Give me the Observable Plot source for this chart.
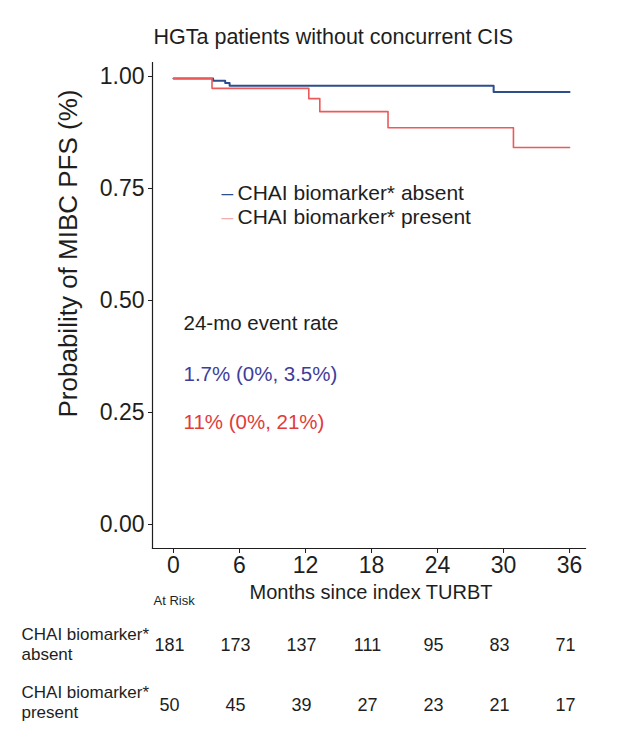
<!DOCTYPE html>
<html>
<head>
<meta charset="utf-8">
<script src="https://cdn.jsdelivr.net/npm/d3@7"></script>
<script src="https://cdn.jsdelivr.net/npm/@observablehq/plot@0.6"></script>
<style>
  html, body { margin: 0; padding: 0; background: #fff; }
  #chart { width: 626px; height: 742px; }
</style>
</head>
<body>
<div id="chart"></div>
<script>
// ---- data ----
const title = "HGTa patients without concurrent CIS";
const yLabel = "Probability of MIBC PFS (%)";
const xLabel = "Months since index TURBT";
const groups = ["CHAI biomarker* absent", "CHAI biomarker* present"];
const rowLabels = ["CHAI biomarker*\nabsent", "CHAI biomarker*\npresent"];
const months = [0, 6, 12, 18, 24, 30, 36];
const yTicks = [0, 0.25, 0.5, 0.75, 1];
const absentTime = [0, 3.6, 4.7, 5.1, 29.1, 36];
const absentSurv = [1, 0.995, 0.990, 0.984, 0.970, 0.970];
const presentTime = [0, 3.5, 12.3, 13.3, 19.5, 30.9, 36];
const presentSurv = [1, 0.978, 0.955, 0.926, 0.890, 0.846, 0.846];
const riskAbsent = [181, 173, 137, 111, 95, 83, 71];
const riskPresent = [50, 45, 39, 27, 23, 21, 17];
const eventRateHeader = "24-mo event rate";
const eventRates = ["1.7% (0%, 3.5%)", "11% (0%, 21%)"];

// ---- styles ----
const blue = "#2d4d8c";
const red = "#ea5a5a";
const pinkSwatch = "#f3adad";
const ink = "#1e1e1e";

const absentData = absentTime.map((t, i) => ({t, s: absentSurv[i]}));
const presentData = presentTime.map((t, i) => ({t, s: presentSurv[i]}));

const chart = Plot.plot({
  width: 626,
  height: 742,
  marginLeft: 152,
  marginRight: 41,
  marginTop: 62,
  marginBottom: 194,
  style: {fontFamily: "'Liberation Sans', Arial, sans-serif", background: "#fff", color: ink},
  x: {domain: [-1.909, 37.45]},
  y: {domain: [-0.0491, 1.0357]},
  marks: [
    Plot.axisY(yTicks, {tickFormat: d3.format(".2f"), fontSize: 23, tickSize: 4, tickPadding: 4, label: null, dy: -2, stroke: ink}),
    Plot.axisX(months, {fontSize: 23, tickSize: 5, tickPadding: 3, label: null, stroke: ink}),
    Plot.frame({anchor: "left", stroke: ink, strokeWidth: 1.2}),
    Plot.frame({anchor: "bottom", stroke: ink, strokeWidth: 1.2}),
    Plot.line(absentData, {x: "t", y: "s", curve: "step-after", stroke: blue, strokeWidth: 2}),
    Plot.line(presentData, {x: "t", y: "s", curve: "step-after", stroke: red, strokeWidth: 1.6}),
    // title
    Plot.text([title], {frameAnchor: "top-left", textAnchor: "start", lineAnchor: "middle", dx: 1, dy: -25, fontSize: 21.5, fill: ink}),
    // y label
    Plot.text([yLabel], {frameAnchor: "left", rotate: -90, textAnchor: "middle", lineAnchor: "middle", dx: -84, dy: -52, fontSize: 26, fill: ink}),
    // x label
    Plot.text([xLabel], {frameAnchor: "bottom", textAnchor: "middle", lineAnchor: "middle", dx: 2, dy: 44, fontSize: 20, fill: ink}),
    // legend
    Plot.text(["–"], {frameAnchor: "top-left", textAnchor: "start", lineAnchor: "middle", dx: 69, dy: 131, fontSize: 21, fill: blue}),
    Plot.text(["–"], {frameAnchor: "top-left", textAnchor: "start", lineAnchor: "middle", dx: 69, dy: 155, fontSize: 21, fill: pinkSwatch}),
    Plot.text([groups[0]], {frameAnchor: "top-left", textAnchor: "start", lineAnchor: "middle", dx: 85, dy: 131, fontSize: 21, fill: ink}),
    Plot.text([groups[1]], {frameAnchor: "top-left", textAnchor: "start", lineAnchor: "middle", dx: 85, dy: 155, fontSize: 21, fill: ink}),
    // event rates
    Plot.text([eventRateHeader], {frameAnchor: "top-left", textAnchor: "start", lineAnchor: "middle", dx: 31, dy: 261, fontSize: 20.5, fill: ink}),
    Plot.text([eventRates[0]], {frameAnchor: "top-left", textAnchor: "start", lineAnchor: "middle", dx: 31, dy: 312, fontSize: 20.5, fill: "#3e3e9a"}),
    Plot.text([eventRates[1]], {frameAnchor: "top-left", textAnchor: "start", lineAnchor: "middle", dx: 31, dy: 360, fontSize: 20.5, fill: "#e03c3c"}),
    // risk table
    Plot.text(["At Risk"], {frameAnchor: "bottom-left", textAnchor: "start", lineAnchor: "middle", dx: 1, dy: 52, fontSize: 13, fill: ink}),
    Plot.text([rowLabels[0]], {frameAnchor: "bottom-left", textAnchor: "start", lineAnchor: "middle", dx: -131, dy: 95, fontSize: 17, lineHeight: 1.2, fill: ink}),
    Plot.text([rowLabels[1]], {frameAnchor: "bottom-left", textAnchor: "start", lineAnchor: "middle", dx: -131, dy: 153, fontSize: 17, lineHeight: 1.2, fill: ink}),
    Plot.text(months, {x: d => d, text: (d, i) => String(riskAbsent[i]), frameAnchor: "bottom", lineAnchor: "middle", dx: -4, dy: 97, fontSize: 18, fill: ink}),
    Plot.text(months, {x: d => d, text: (d, i) => String(riskPresent[i]), frameAnchor: "bottom", lineAnchor: "middle", dx: -4, dy: 157, fontSize: 18, fill: ink})
  ]
});
document.getElementById("chart").appendChild(chart);
</script>
</body>
</html>
